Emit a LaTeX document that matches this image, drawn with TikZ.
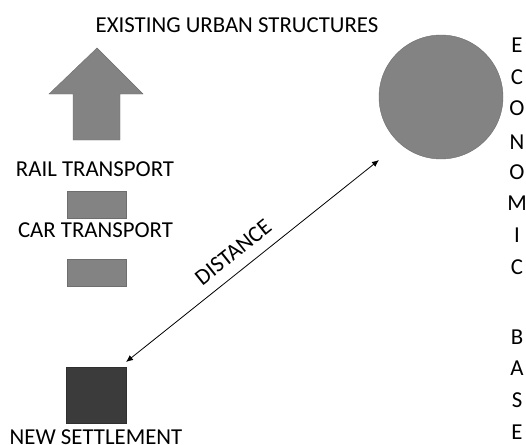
\documentclass[tikz,border=0pt]{standalone}
\usepackage{fontspec}
\setmainfont{Carlito}
\usetikzlibrary{arrows.meta}

\definecolor{midgray}{HTML}{838383}
\definecolor{edgegray}{HTML}{6E6E6E}
\definecolor{darkgray}{HTML}{3B3B3B}

\tikzset{
  txt/.style={inner sep=0pt},
  bar/.style={draw=edgegray, fill=midgray, inner sep=0pt, minimum width=59pt, minimum height=27pt},
  settle/.style={draw=darkgray!80!black, fill=darkgray, inner sep=0pt, minimum width=60pt, minimum height=56pt},
  base/.style={circle, draw=edgegray, fill=midgray, inner sep=0pt, minimum size=124pt}
}

\begin{document}
\begin{tikzpicture}[x=1pt, y=-1pt, font=\fontsize{22.8}{25}\selectfont]
        \useasboundingbox (0,0) rectangle (526,444);

        \node[txt] (title) at (237,25) {EXISTING URBAN STRUCTURES};

        % up arrow
        \filldraw[fill=midgray, draw=edgegray] (97,48) -- (143,94) -- (120,94) -- (120,140)
              -- (73,140) -- (73,94) -- (49,94) -- cycle;

        \node[txt] (rail) at (95,169) {RAIL TRANSPORT};
        \node[bar] (railbar) at (96.5,205) {};
        \node[txt] (car) at (95.5,230) {CAR TRANSPORT};
        \node[bar] (carbar) at (96.5,272.5) {};

        \node[settle] (new) at (96,395) {};
        \node[txt, anchor=base] (newtxt) at (96,444) {NEW SETTLEMENT};

        \node[base] (econ) at (441,97) {};

        \foreach \ch/\yy [count=\i] in {E/45, C/77, O/108, N/142, O/172, M/203, I/235, C/267,
                                        B/337, A/368, S/400, E/432}
            \node[txt] (letter\i) at (517,\yy) {\ch};

        \coordinate (near) at (126,362);
        \coordinate (far) at (379,160);
        \draw[{Latex[length=7pt,width=6pt]}-{Latex[length=7pt,width=6pt]}, line width=0.8pt]
              (near) -- node[pos=0.47, sloped, above=11pt, txt] (dist) {DISTANCE} (far);
\end{tikzpicture}
\end{document}
